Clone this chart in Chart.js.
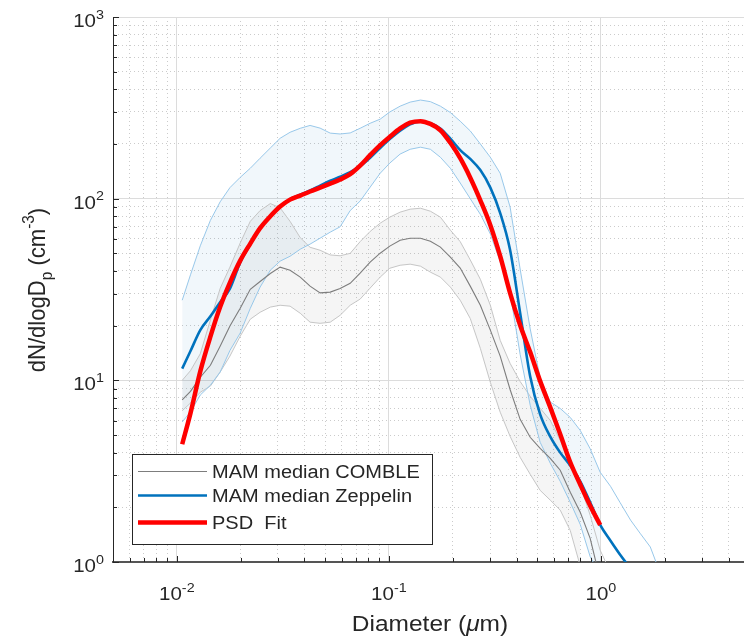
<!DOCTYPE html>
<html>
<head>
<meta charset="utf-8">
<title>MAM size distribution</title>
<script src="https://cdn.jsdelivr.net/npm/chart.js@4.4.1/dist/chart.umd.min.js"></script>
<style>
  html, body { margin: 0; padding: 0; background: #fff; }
  #psdChart { display: block; }
</style>
</head>
<body>
<canvas id="psdChart" width="744" height="639"></canvas>
<script>
// diameter bins (um), shared by every curve
const diameter = [0.0106, 0.0116, 0.0129, 0.0144, 0.016, 0.0178, 0.0199, 0.0222, 0.0247, 0.0276,
  0.0307, 0.0342, 0.0382, 0.0425, 0.0474, 0.0529, 0.0589, 0.0657, 0.0732, 0.0816,
  0.091, 0.101, 0.113, 0.126, 0.141, 0.157, 0.175, 0.195, 0.217, 0.242,
  0.27, 0.301, 0.335, 0.373, 0.416, 0.464, 0.517, 0.577, 0.643, 0.717,
  0.799, 0.89, 0.992, 1.11, 1.23, 1.38, 1.53, 1.71, 1.91];

// dN/dlogDp (cm-3)
const fitPsd = [4.45, 6.6, 11.2, 17.4, 25.3, 34.5, 45.6, 56.6, 68.8, 80,
  90.5, 98.8, 104, 109.5, 115, 121, 127.5, 136.5, 152, 173.6,
  197, 219, 243.5, 262, 267, 258, 238, 203, 167, 130.5,
  98, 71.5, 48.2, 30.2, 20.1, 14.3, 9.9, 7.1, 5.05, 3.54,
  2.67, 2.04, 1.6];

const zeppMedian = [11.6, 14.5, 18.9, 22.5, 26.9, 32, 44.5, 56, 69, 80,
  90.5, 99.5, 105, 111, 118, 125.5, 132, 140, 151, 168,
  190, 213, 237, 257, 266, 260, 243.6, 214, 185, 165.6,
  143.6, 115, 83.2, 52.1, 23.5, 10.5, 6.5, 4.9, 4.0, 3.4,
  2.78, 2.13, 1.6, 1.31, 1.10, 0.92];

const zeppUpper = [27.6, 38.1, 55, 76, 96, 115, 131, 147, 167, 190,
  215, 232, 244, 253, 244.5, 229.5, 227, 230, 244, 260,
  274, 300, 323, 340, 349, 342, 323, 298, 267, 236,
  200, 169, 138, 90, 41, 19.2, 10.3, 7.6, 7.0, 6.25,
  5.3, 4.2, 3.12, 2.61, 2.13, 1.70, 1.44, 1.21, 0.86];

const zeppLower = [5.9, 6.7, 8.3, 9.4, 11.1, 14.6, 18.2, 24.9, 32.6, 40.4,
  45.3, 48.2, 52.7, 56.2, 60.6, 65.4, 70, 86, 97, 115.7,
  138, 157, 176, 187, 192, 187, 169, 147, 122, 100,
  82, 64, 45, 30.5, 13.9, 7.3, 4.56, 3.5, 2.78, 2.13,
  1.61, 1.07, 0.85];

const combleMedian = [7.8, 8.7, 10.4, 12.1, 15.4, 19.9, 24.9, 31.7, 35, 38.7,
  42, 40.4, 37, 33, 30.3, 30.6, 32, 34.2, 38.9, 44.7,
  50.1, 54.8, 59.1, 60.6, 60.6, 58.3, 54.1, 47.6, 41.5, 33,
  25.9, 18.9, 13.6, 8.9, 6.1, 4.86, 4.22, 3.72, 3.2, 2.42,
  1.88, 1.35, 0.8];

const combleUpper = [10, 11.3, 14, 21.5, 32, 42, 57, 75, 86, 94,
  89, 75, 61, 54, 52, 49, 48.5, 50, 58, 66,
  73.3, 79.1, 84.3, 87.5, 88.6, 85.3, 79.1, 67.1, 58, 46,
  36, 25.9, 16.6, 12.4, 9.85, 8.17, 7.02, 6.02, 4.67, 3.54,
  2.64, 1.81, 1.16, 0.88];

const combleLower = [6.8, 7.5, 8.6, 9.3, 11.1, 13.6, 17.5, 21.7, 23.7, 25.3,
  25.9, 25.6, 23.4, 20.9, 20.6, 20.9, 22.8, 25.9, 28, 32.2,
  37, 41.4, 43, 43.6, 42.5, 39.4, 37, 32.6, 27.6, 21.9,
  15, 9.75, 6.68, 4.92, 3.77, 3.04, 2.48, 2.19, 1.93, 1.49,
  0.95];

// decade tick labels: 10^exp
const xTickValues = [0.01, 0.1, 1];
const xTickExps = ['-2', '-1', '0'];
const yTickValues = [1, 10, 100, 1000];
const yTickExps = ['0', '1', '2', '3'];

const legendLabels = ['MAM median COMBLE', 'MAM median Zeppelin', 'PSD  Fit'];

const FONT = "'Liberation Sans', Arial, Helvetica, sans-serif";
const SQUEEZE = 0.9; // the original figure is slightly squashed vertically
const INK = '#262626';

const pts = (arr) => diameter.map((d, i) => ({ x: d, y: arr[i] })).filter((p) => p.y != null);

// 1..9 x 10^n between lo and hi, for grid lines
const logTicks = (lo, hi) => {
  const out = [];
  for (let e = Math.floor(Math.log10(lo)); e <= Math.ceil(Math.log10(hi)); e++) {
    for (let m = 1; m <= 9; m++) {
      const v = +(m * Math.pow(10, e)).toPrecision(3);
      if (v >= lo - 1e-12 && v <= hi + 1e-12) out.push({ value: v });
    }
  }
  return out;
};
const isDecade = (v) => Math.abs(Math.log10(v) - Math.round(Math.log10(v))) < 1e-6;

function drawRich(ctx, parts, size, align) {
  const sizes = parts.map((p) => (p.sup || p.sub ? size * 0.7 : size));
  const fonts = parts.map((p, i) => (p.italic ? 'italic ' : '') + sizes[i] + 'px ' + FONT);
  const widths = parts.map((p, i) => { ctx.font = fonts[i]; return ctx.measureText(p.t).width; });
  const total = widths.reduce((a, b) => a + b, 0);
  let cx = align === 'center' ? -total / 2 : align === 'right' ? -total : 0;
  ctx.textAlign = 'left';
  ctx.textBaseline = 'alphabetic';
  parts.forEach((p, i) => {
    ctx.font = fonts[i];
    const dy = p.sup ? -size * 0.45 : p.sub ? size * 0.28 : 0;
    ctx.fillText(p.t, cx, dy);
    cx += widths[i];
  });
}

function textAt(ctx, parts, x, y, size, align) {
  ctx.save();
  ctx.translate(x, y);
  ctx.scale(1, SQUEEZE);
  drawRich(ctx, parts, size, align);
  ctx.restore();
}

const decorations = {
  id: 'decorations',
  beforeDraw(chart) {
    const { ctx, width, height } = chart;
    ctx.save();
    ctx.fillStyle = '#fff';
    ctx.fillRect(0, 0, width, height);
    ctx.restore();
  },
  afterDraw(chart) {
    const { ctx, chartArea: area, scales: { x, y } } = chart;
    ctx.save();
    ctx.fillStyle = INK;
    ctx.strokeStyle = INK;
    ctx.lineWidth = 1;

    // inward tick marks (matlab style)
    ctx.beginPath();
    x.ticks.forEach((t) => {
      const px = Math.round(x.getPixelForValue(t.value)) + 0.5;
      const len = isDecade(t.value) ? 6 : 4;
      ctx.moveTo(px, area.bottom);
      ctx.lineTo(px, area.bottom - len);
    });
    y.ticks.forEach((t) => {
      const py = Math.round(y.getPixelForValue(t.value)) + 0.5;
      const len = isDecade(t.value) ? 6 : 4;
      ctx.moveTo(area.left, py);
      ctx.lineTo(area.left + len, py);
    });
    ctx.stroke();

    // tick labels
    xTickValues.forEach((v, i) => {
      textAt(ctx, [{ t: '10' }, { t: xTickExps[i], sup: true }], x.getPixelForValue(v), area.bottom + 38, 20.5, 'center');
    });
    yTickValues.forEach((v, i) => {
      textAt(ctx, [{ t: '10' }, { t: yTickExps[i], sup: true }], 104, y.getPixelForValue(v) + 10, 20.5, 'right');
    });

    // axis titles
    textAt(ctx, [{ t: 'Diameter (' }, { t: 'μ', italic: true }, { t: 'm)' }], 430, 631, 24.5, 'center');
    ctx.save();
    ctx.translate(45, 290);
    ctx.rotate(-Math.PI / 2);
    ctx.scale(SQUEEZE, 1);
    drawRich(ctx, [{ t: 'dN/dlogD' }, { t: 'p', sub: true }, { t: ' (cm' }, { t: '-3', sup: true }, { t: ')' }], 24.5, 'center');
    ctx.restore();

    // legend box
    const box = { left: 132, top: 454, right: 432, bottom: 544 };
    ctx.fillStyle = '#fff';
    ctx.fillRect(box.left, box.top, box.right - box.left, box.bottom - box.top);
    ctx.strokeStyle = INK;
    ctx.lineWidth = 1;
    ctx.strokeRect(box.left + 0.5, box.top + 0.5, box.right - box.left, box.bottom - box.top);
    const ds = chart.data.datasets;
    const rows = [
      { ds: ds[2], y: 471.5 },
      { ds: ds[1], y: 495.5 },
      { ds: ds[0], y: 522.5 },
    ];
    rows.forEach((r, i) => {
      ctx.strokeStyle = r.ds.borderColor;
      ctx.lineWidth = r.ds.borderWidth;
      ctx.beginPath();
      ctx.moveTo(138, r.y);
      ctx.lineTo(207, r.y);
      ctx.stroke();
      ctx.fillStyle = INK;
      textAt(ctx, [{ t: legendLabels[i] }], 212, r.y + 6.5, 20, 'left');
    });
    ctx.restore();
  },
};

const ctx = document.getElementById('psdChart');
new Chart(ctx, {
  type: 'line',
  data: {
    datasets: [
      { label: legendLabels[2], data: pts(fitPsd), borderColor: '#ff0000', borderWidth: 4.5, cubicInterpolationMode: 'monotone' },
      { label: legendLabels[1], data: pts(zeppMedian), borderColor: '#0072bd', borderWidth: 2.6, cubicInterpolationMode: 'monotone' },
      { label: legendLabels[0], data: pts(combleMedian), borderColor: '#7d7d7d', borderWidth: 1.1 },
      { label: 'Zeppelin upper', data: pts(zeppUpper), borderColor: '#98c8ea', borderWidth: 1, fill: '+1', backgroundColor: 'rgba(0,114,189,0.055)' },
      { label: 'Zeppelin lower', data: pts(zeppLower), borderColor: '#98c8ea', borderWidth: 1 },
      { label: 'COMBLE upper', data: pts(combleUpper), borderColor: '#c6c6c6', borderWidth: 1, fill: '+1', backgroundColor: 'rgba(128,128,128,0.08)' },
      { label: 'COMBLE lower', data: pts(combleLower), borderColor: '#c6c6c6', borderWidth: 1 },
    ],
  },
  options: {
    responsive: false,
    animation: false,
    elements: { point: { radius: 0 }, line: { tension: 0 } },
    layout: { padding: { top: 17, right: 0, left: 0, bottom: 0 } },
    plugins: {
      legend: { display: false },
      tooltip: { enabled: false },
      filler: { drawTime: 'beforeDatasetsDraw' },
    },
    scales: {
      x: {
        type: 'logarithmic',
        min: 0.005,
        max: 4.73,
        afterBuildTicks: (s) => { s.ticks = logTicks(0.005, 4.73); },
        afterFit: (s) => { s.height = 77; },
        ticks: { display: false },
        grid: {
          drawTicks: false,
          lineWidth: 1,
          color: (c) => (c.tick && isDecade(c.tick.value) ? '#dcdcdc' : '#cbcbcb'),
        },
        border: {
          color: '#555555',
          width: 2,
          dash: (c) => (c.tick && !isDecade(c.tick.value) ? [1, 3] : []),
        },
      },
      y: {
        type: 'logarithmic',
        min: 1,
        max: 1000,
        afterBuildTicks: (s) => { s.ticks = logTicks(1, 1000); },
        afterFit: (s) => { s.width = 113; },
        ticks: { display: false },
        grid: {
          drawTicks: false,
          lineWidth: 1,
          color: (c) => (c.tick && isDecade(c.tick.value) ? '#dcdcdc' : '#cbcbcb'),
        },
        border: {
          color: INK,
          width: 1,
          dash: (c) => (c.tick && !isDecade(c.tick.value) ? [1, 3] : []),
        },
      },
    },
  },
  plugins: [decorations],
});
</script>
</body>
</html>
